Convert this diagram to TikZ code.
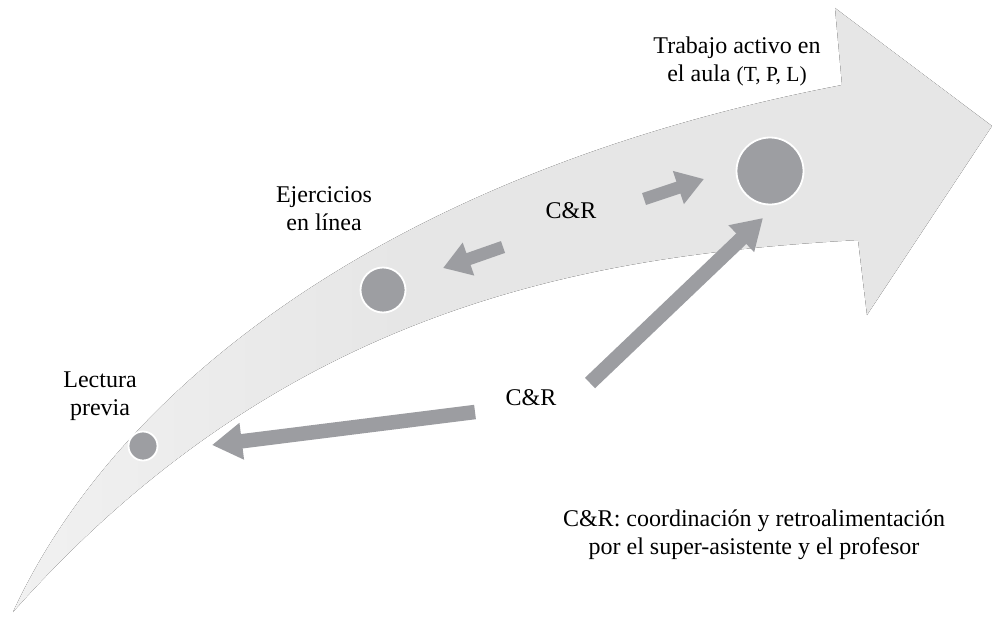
\documentclass[tikz,border=0pt]{standalone}
\usepackage{fontspec}
\setmainfont{Liberation Serif}
\usetikzlibrary{arrows.meta}
\definecolor{bandgray}{HTML}{E6E6E6}
\definecolor{bandlight}{HTML}{F1F1F1}
\definecolor{arrgray}{HTML}{9C9DA1}
\definecolor{dotgray}{HTML}{9D9EA2}
\pgfdeclarehorizontalshading{tailfade}{100bp}{color(0bp)=(bandlight); color(25bp)=(bandlight); color(45bp)=(bandgray); color(100bp)=(bandgray)}
\tikzset{
  dot/.style={circle, fill=dotgray, draw=white, line width=1.8pt, inner sep=0pt},
  lbl/.style={font=\fontsize{24}{28}\selectfont, align=center, inner sep=0pt, anchor=north},
  cr/.style={font=\fontsize{24}{28}\selectfont, inner sep=0pt, anchor=base},
  fatsmall/.style={draw=arrgray, line width=12.5pt, -{Triangle[length=27pt,width=33pt]}},
  fatlong/.style={draw=arrgray, line width=14.5pt, -{Triangle[length=30pt,width=35pt]}}
}
\begin{document}
\begin{tikzpicture}[x=1pt,y=-1pt]
\useasboundingbox (0,0) rectangle (992,618);
% big curved arrow band
\fill[shading=tailfade]
  (13,612) .. controls (120,380) and (400,170) .. (842,85)
  -- (835,8) -- (992,126) -- (867,315) -- (858,240)
  .. controls (600,255) and (290,300) .. (13,612)
  -- cycle;
% circles
\node[dot, minimum size=67pt] (aula) at (770,171) {};
\node[dot, minimum size=45pt] (ejer) at (383,290) {};
\node[dot, minimum size=29pt] (lect) at (143,446) {};
% labels
\node[lbl] (taula) at (737,36.5) {Trabajo activo en\\el aula {\fontsize{21.5}{28}\selectfont(T, P, L)}};
\node[lbl] (tejer) at (324,186.5) {Ejercicios\\en línea};
\node[lbl] (tlect) at (100,371.5) {Lectura\\previa};
\node[cr] (cr1) at (571,218) {C\&R};
\node[cr] (cr2) at (531,405) {C\&R};
\node[lbl] (note) at (754,509.5) {C\&R: coordinación y retroalimentación\\por el super-asistente y el profesor};
% arrows
\coordinate (r1s) at (644,199); \coordinate (r1e) at (704,179);
\coordinate (l1s) at (503,247); \coordinate (l1e) at (443,268);
\coordinate (d1s) at (590,383); \coordinate (d1e) at (763,218);
\coordinate (l2s) at (475,412); \coordinate (l2e) at (212,445);
\draw[fatsmall] (r1s) -- (r1e);
\draw[fatsmall] (l1s) -- (l1e);
\draw[fatlong] (d1s) -- (d1e);
\draw[fatlong] (l2s) -- (l2e);
\end{tikzpicture}
\end{document}
